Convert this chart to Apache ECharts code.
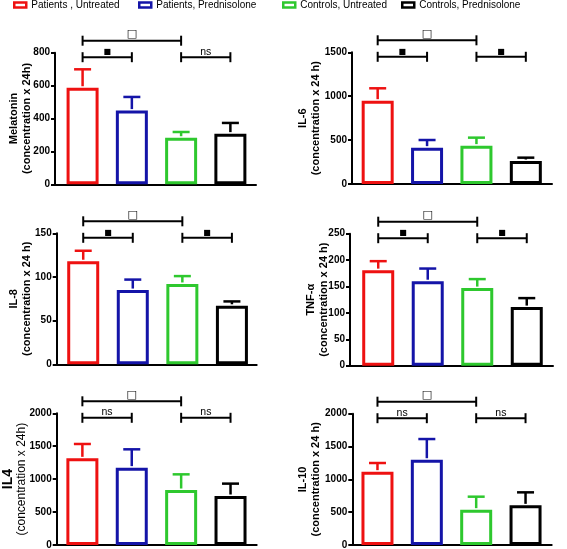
<!DOCTYPE html>
<html><head><meta charset="utf-8">
<script src="https://cdn.jsdelivr.net/npm/echarts@6/dist/echarts.min.js"></script>
<style>html,body{margin:0;padding:0;background:#fff}#c{width:567px;height:549px}</style>
</head><body><div id="c"></div>
<script>
// ---- data ----
const groups = ['Patients , Untreated', 'Patients, Prednisolone', 'Controls, Untreated', 'Controls, Prednisolone'];
const groupColors = ['#ee1111', '#1414a8', '#2ec82e', '#000000'];

const melatoninMean = [587, 448, 283, 308];
const melatoninUpper = [699, 531, 318, 373];
const il6Mean = [949, 414, 437, 262];
const il6Upper = [1090, 501, 528, 300];
const il8Mean = [118, 85, 92, 67];
const il8Upper = [130, 97, 101, 72];
const tnfMean = [181, 160, 147, 111];
const tnfUpper = [198, 184, 164, 128];
const il4Mean = [1316, 1175, 835, 744];
const il4Upper = [1534, 1453, 1073, 932];
const il10Mean = [1117, 1299, 538, 604];
const il10Upper = [1249, 1614, 736, 802];

// brackets: [fromGroup, toGroup, level(0 low, 1 high), text]
const bracketsMelatonin = [[0, 2, 1, '□'], [0, 1, 0, '■'], [2, 3, 0, 'ns']];
const bracketsIL6 = [[0, 2, 1, '□'], [0, 1, 0, '■'], [2, 3, 0, '■']];
const bracketsIL8 = [[0, 2, 1, '□'], [0, 1, 0, '■'], [2, 3, 0, '■']];
const bracketsTNF = [[0, 2, 1, '□'], [0, 1, 0, '■'], [2, 3, 0, '■']];
const bracketsIL4 = [[0, 2, 1, '□'], [0, 1, 0, 'ns'], [2, 3, 0, 'ns']];
const bracketsIL10 = [[0, 2, 1, '□'], [0, 1, 0, 'ns'], [2, 3, 0, 'ns']];

const yMax = [800, 1500, 150, 250, 2000, 2000];
const yStep = [200, 500, 50, 50, 500, 500];
const yTitle1 = ['Melatonin', 'IL-6', 'IL-8', 'TNF-α', 'IL4', 'IL-10'];
const yTitle2 = ['(concentration x 24h)', '(concentration x 24 h)', '(concentration x 24 h)', '(concentration x 24 h)', '(concentration x 24h)', '(concentration x 24 h)'];

// ---- layout ----
const FONT = '"Liberation Sans", Arial, sans-serif';
const panels = [
  {mean: melatoninMean, upper: melatoninUpper, br: bracketsMelatonin, grid: {left: 55, top: 52.7, width: 201, height: 131.6}, gap: 22, xmin: -0.56, xmax: 3.52},
  {mean: il6Mean, upper: il6Upper, br: bracketsIL6, grid: {left: 352, top: 52.3, width: 200, height: 131.7}, gap: 30, xmin: -0.52, xmax: 3.53},
  {mean: il8Mean, upper: il8Upper, br: bracketsIL8, grid: {left: 56.7, top: 233.3, width: 200, height: 131}, gap: 23, xmin: -0.535, xmax: 3.5},
  {mean: tnfMean, upper: tnfUpper, br: bracketsTNF, grid: {left: 350, top: 233.7, width: 203, height: 132}, gap: 20, xmin: -0.57, xmax: 3.53},
  {mean: il4Mean, upper: il4Upper, br: bracketsIL4, grid: {left: 56.7, top: 413.3, width: 200, height: 131.7}, gap: 29, xmin: -0.52, xmax: 3.53},
  {mean: il10Mean, upper: il10Upper, br: bracketsIL10, grid: {left: 352.3, top: 413.7, width: 199.4, height: 131.3}, gap: 30, xmin: -0.51, xmax: 3.53}
];

const grid = [], xAxis = [], yAxis = [], series = [];
panels.forEach((p, k) => {
  grid.push(Object.assign({containLabel: false, outerBoundsMode: 'none'}, p.grid));
  xAxis.push({
    type: 'value', gridIndex: k, min: p.xmin, max: p.xmax,
    axisLine: {show: true, onZero: false, lineStyle: {color: '#000', width: 2}},
    axisTick: {show: false}, axisLabel: {show: false}, splitLine: {show: false}
  });
  const isIL4 = k === 4;
  yAxis.push({
    type: 'value', gridIndex: k, min: 0, max: yMax[k], interval: yStep[k],
    axisLine: {show: true, onZero: false, lineStyle: {color: '#000', width: 2}},
    axisTick: {show: true, length: 4, lineStyle: {color: '#000', width: 2}},
    axisLabel: {color: '#000', fontSize: 10, fontWeight: 'bold', fontFamily: FONT, margin: 5, formatter: v => String(v)},
    splitLine: {show: false},
    name: isIL4 ? '{a|' + yTitle1[k] + '}\n{b|' + yTitle2[k] + '}' : yTitle1[k] + '\n' + yTitle2[k],
    nameLocation: 'middle', nameRotate: 90, nameGap: p.gap, nameMoveOverlap: false,
    nameTextStyle: isIL4 ? {
      color: '#000', fontFamily: FONT, align: 'center',
      rich: {a: {fontSize: 14, fontWeight: 'bold', fontFamily: FONT, color: '#000', lineHeight: 14},
             b: {fontSize: 12, fontWeight: 'normal', fontFamily: FONT, color: '#000', lineHeight: 13}}
    } : {color: '#000', fontSize: 11, fontWeight: 'bold', fontFamily: FONT, lineHeight: 13, align: 'center'}
  });
  groups.forEach((g, i) => {
    series.push({
      type: 'bar', name: g, xAxisIndex: k, yAxisIndex: k, stack: 'p' + k,
      barWidth: 32, silent: true,
      itemStyle: {color: '#fff', borderColor: groupColors[i], borderWidth: 3},
      data: [[i, p.mean[i]]]
    });
  });
  series.push({
    type: 'custom', xAxisIndex: k, yAxisIndex: k, silent: true, clip: false, z: 3,
    data: p.mean.map((m, i) => [i, m, p.upper[i]]),
    renderItem: (params, api) => {
      const i = api.value(0);
      const b = api.coord([i, api.value(1)]);
      const t = api.coord([i, api.value(2)]);
      const st = {stroke: groupColors[i], lineWidth: 2.5, fill: null};
      return {type: 'group', children: [
        {type: 'line', shape: {x1: b[0], y1: b[1] - 1.5, x2: b[0], y2: t[1]}, style: st},
        {type: 'line', shape: {x1: b[0] - 8.5, y1: t[1], x2: b[0] + 8.5, y2: t[1]}, style: st}
      ]};
    }
  });
  series.push({
    type: 'custom', xAxisIndex: k, yAxisIndex: k, silent: true, clip: false, z: 3,
    data: p.br.map(r => [r[0], r[1], r[2]]),
    renderItem: (params, api) => {
      const cs = params.coordSys;
      const a = api.coord([api.value(0), 0]);
      const c = api.coord([api.value(1), 0]);
      const lvl = api.value(2);
      const y = lvl === 1 ? cs.y - 12 : cs.y + 4.5;
      const txt = p.br[params.dataIndex][3];
      const st = {stroke: '#000', lineWidth: 2, fill: null};
      let ts, dy;
      if (txt === '□') { ts = {fontSize: 11, fontFamily: '"DejaVu Sans"'}; dy = -6.5; }
      else if (txt === '■') { ts = {fontSize: 8, fontFamily: '"DejaVu Sans"'}; dy = -5; }
      else { ts = {fontSize: 10.5, fontFamily: FONT}; dy = -5.5; }
      return {type: 'group', children: [
        {type: 'line', shape: {x1: a[0], y1: y, x2: c[0], y2: y}, style: st},
        {type: 'line', shape: {x1: a[0], y1: y - 5, x2: a[0], y2: y + 5}, style: st},
        {type: 'line', shape: {x1: c[0], y1: y - 5, x2: c[0], y2: y + 5}, style: st},
        {type: 'text', x: (a[0] + c[0]) / 2, y: y + dy,
         style: Object.assign({text: txt, fill: '#000', align: 'center', verticalAlign: 'middle'}, ts)}
      ]};
    }
  });
});

const legendLeft = [13, 138, 282, 401];
const legend = groups.map((g, i) => ({
  left: legendLeft[i], top: 0, padding: 0, itemGap: 0,
  itemWidth: 12, itemHeight: 5, itemTextGap: 8, icon: 'rect', selectedMode: false,
  textStyle: {color: '#000', fontSize: 10, fontFamily: FONT},
  data: [{name: g, icon: 'rect', itemStyle: {color: '#fff', borderColor: groupColors[i], borderWidth: 2.5}}]
}));

const chart = echarts.init(document.getElementById('c'), null, {renderer: 'canvas'});
chart.setOption({animation: false, backgroundColor: '#fff', legend, grid, xAxis, yAxis, series});
</script></body></html>
